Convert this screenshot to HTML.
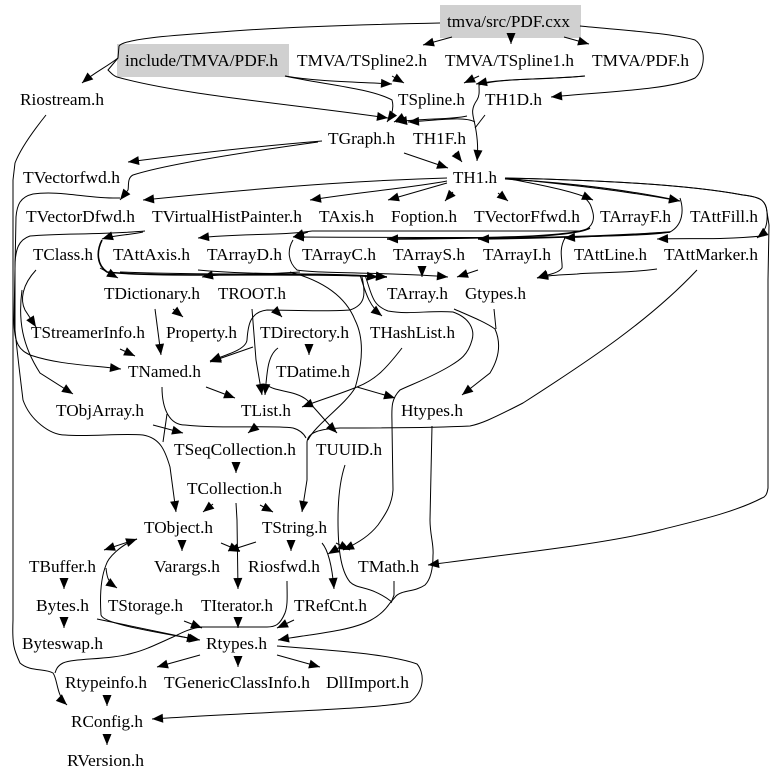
<!DOCTYPE html>
<html><head><meta charset="utf-8"><style>
html,body{margin:0;padding:0;background:#fff;width:779px;height:781px;overflow:hidden}
svg{display:block}
text{font-family:"Liberation Serif",serif;font-size:17px;fill:#000}
path{fill:none;stroke:#000;stroke-width:1}
path.a{marker-end:url(#m)}
</style></head><body>
<svg width="779" height="781" viewBox="0 0 779 781">
<defs><marker id="m" markerUnits="userSpaceOnUse" markerWidth="12" markerHeight="10" refX="11" refY="4.5" orient="auto" overflow="visible"><polygon points="0,0 11,4.5 0,9" fill="#000"/></marker></defs>
<rect x="440" y="5" width="141" height="33" fill="#d0d0d0"/>
<rect x="117" y="44" width="172" height="33" fill="#d0d0d0"/>
<g>
<path class="a" d="M452 37L423 45"/>
<path class="a" d="M511 33L511 44"/>
<path class="a" d="M564 37L589 44"/>
<path class="a" d="M580 26C620 30 670 33 695 40C707 48 705 70 695 78C670 90 600 92 551 97"/>
<path class="a" d="M440 23C390 24 300 26 233 31C180 35 125 38 119 46L118 58C105 68 95 72 82 83"/>
<path class="a" d="M118 58L108 70C112 74 114 76 117 77C180 95 300 105 388 118"/>
<path class="a" d="M285 76C320 82 360 82 392 84"/>
<path class="a" d="M285 76C320 84 370 88 392 100C394 107 392 115 387 122"/>
<path class="a" d="M392 76L404 83"/>
<path class="a" d="M479 76L464 83"/>
<path class="a" d="M585 76C545 80 505 78 476 84"/>
<path class="a" d="M585 76C540 80 500 78 479 85C479 90 480 95 477 100C470 110 473 115 475 125C478 140 478 150 477 161"/>
<path d="M485 115L475 128"/>
<path class="a" d="M475 122C465 116 440 120 408 122"/>
<path class="a" d="M467 116C450 120 425 118 396 122"/>
<path class="a" d="M404 117L394 122"/>
<path class="a" d="M322 141C260 146 190 154 128 162"/>
<path class="a" d="M318 142C260 150 170 163 133 175C127 178 129 186 128 190L120 200"/>
<path class="a" d="M404 153L448 168"/>
<path class="a" d="M455 153L462 162"/>
<path class="a" d="M120 198C90 199 60 190 33 194C20 197 17 205 16 217L14 320C14 345 20 350 30 355C60 365 90 365 121 369"/>
<path class="a" d="M145 231C100 235 60 233 30 236C18 240 16 250 15 262L15 330C18 360 20 375 23 400C30 420 50 435 65 435C90 437 120 433 143 435C160 438 165 450 170 467L176 512"/>
<path class="a" d="M46 115C30 135 20 150 15 163L13 180L13 620C12 645 14 650 20 663C30 672 45 668 53 673C58 680 56 695 67 705"/>
<path class="a" d="M36 270C22 285 20 300 25 310L36 327"/>
<path class="a" d="M22 290C18 320 22 345 40 373L73 394"/>
<path class="a" d="M447 178C380 180 300 184 143 200"/>
<path class="a" d="M447 181C410 188 360 192 310 200"/>
<path class="a" d="M447 183L388 200"/>
<path class="a" d="M453 192L445 201"/>
<path class="a" d="M498 193L508 201"/>
<path class="a" d="M505 178C540 185 570 190 593 200"/>
<path class="a" d="M505 178C570 185 620 190 680 201"/>
<path class="a" d="M505 179C570 183 630 190 680 201"/>
<path class="a" d="M505 178C600 180 690 185 743 195C760 197 766 200 767 212C768 225 765 232 757 238"/>
<path class="a" d="M505 178C600 180 690 185 743 195C760 197 766 200 767 212L769 225L768 280L768 488C767 495 765 497 762 498C735 512 700 520 660 530C600 545 500 555 428 565"/>
<path class="a" d="M143 232C130 235 115 235 102 239"/>
<path class="a" d="M312 231C280 236 240 233 198 238"/>
<path class="a" d="M308 232L293 237"/>
<path d="M312 231L580 231C590 230 595 222 593 213C591 205 590 203 585 198"/>
<path class="a" d="M680 198C684 210 683 225 670 232C640 238 500 238 293 237"/>
<path class="a" d="M590 228C575 236 520 238 387 239" style="stroke-width:1.6"/>
<path class="a" d="M670 232C620 236 540 238 478 239" style="stroke-width:1.6"/>
<path class="a" d="M670 232C630 235 600 236 564 238"/>
<path class="a" d="M762 236C720 240 690 238 657 239"/>
<path class="a" d="M293 240C287 250 288 262 297 270C320 274 400 272 448 277"/>
<path class="a" d="M422 270L422 277"/>
<path class="a" d="M478 270L457 277"/>
<path class="a" d="M102 240C96 252 97 265 107 272C160 278 300 272 387 277" style="stroke-width:1.6"/>
<path class="a" d="M100 268L118 278"/>
<path class="a" d="M198 270C260 276 330 272 387 277"/>
<path class="a" d="M300 272C240 276 225 273 202 277"/>
<path class="a" d="M120 272C220 276 300 272 378 277"/>
<path class="a" d="M565 238C558 250 563 262 562 268C558 274 545 275 537 278"/>
<path class="a" d="M657 269C620 274 590 272 577 274C560 275 550 275 537 278"/>
<path class="a" d="M697 270C650 320 590 360 523 403C490 420 480 424 470 426C430 428 380 428 340 428C320 429 308 432 307 442L307 480L302 512"/>
<path class="a" d="M307 400C320 414 328 424 337 433"/>
<path d="M267 385C275 392 295 390 307 400"/>
<path class="a" d="M402 348C385 370 375 380 357 387C340 394 320 400 302 407"/>
<path class="a" d="M357 387L395 398"/>
<path d="M290 272C320 280 345 295 355 320C365 340 362 365 355 388C345 405 315 425 308 440"/>
<path d="M162 387C162 410 170 425 185 425C220 429 270 425 293 428C300 430 304 434 306 438"/>
<path class="a" d="M257 426L248 433"/>
<path class="a" d="M206 387L235 398"/>
<path class="a" d="M153 425L183 433"/>
<path d="M167 414L163 442"/>
<path class="a" d="M120 349L135 356"/>
<path class="a" d="M155 309L161 355"/>
<path class="a" d="M173 309L183 317"/>
<path class="a" d="M252 309L256 360L262 395"/>
<path class="a" d="M253 347L210 362"/>
<path class="a" d="M278 348C268 355 267 370 265 395"/>
<path class="a" d="M309 346L309 355"/>
<path class="a" d="M362 277C366 295 365 305 350 310C320 312 290 310 267 310C250 312 248 325 247 340C246 350 225 355 210 361"/>
<path class="a" d="M275 310L282 317"/>
<path class="a" d="M360 275C365 290 368 305 382 316"/>
<path class="a" d="M365 275C372 295 372 305 388 311C410 315 430 310 453 312C470 318 475 330 472 340C468 355 460 360 450 366C430 378 410 385 400 390C390 400 392 410 392 425L393 490C392 505 385 515 378 525C370 535 360 542 343 550"/>
<path class="a" d="M454 309C470 316 485 322 495 329C502 345 498 360 490 373L462 395"/>
<path d="M494 309L496 329"/>
<path class="a" d="M432 426L430 520C430 535 434 545 433 555C433 570 430 580 425 585C415 592 402 590 396 596L390 603C380 618 365 625 340 630C320 634 300 636 278 640"/>
<path d="M394 581L394 595L391 603"/>
<path d="M345 465C340 480 338 500 338 520C338 545 340 570 350 582C358 590 370 585 392 602"/>
<path class="a" d="M236 503L237 520L238 589"/>
<path class="a" d="M213 504L203 512"/>
<path class="a" d="M260 505L273 512"/>
<path class="a" d="M236 462L236 473"/>
<path class="a" d="M106 565C108 558 120 545 137 539"/>
<path class="a" d="M137 539L104 550"/>
<path class="a" d="M106 565C100 580 100 600 101 615C103 622 130 628 200 640"/>
<path class="a" d="M106 568C107 578 108 582 117 588"/>
<path class="a" d="M182 541L182 551"/>
<path class="a" d="M221 543L240 551"/>
<path class="a" d="M256 542L228 551"/>
<path class="a" d="M291 541L291 551"/>
<path class="a" d="M322 543C328 550 332 565 334 589"/>
<path class="a" d="M345 544L328 554"/>
<path class="a" d="M336 543L350 550"/>
<path class="a" d="M64 579L64 589"/>
<path class="a" d="M64 618L64 628"/>
<path class="a" d="M97 619L198 640"/>
<path class="a" d="M184 621L202 628"/>
<path class="a" d="M238 618L238 628"/>
<path class="a" d="M294 620L277 628"/>
<path d="M287 581C287 595 288 605 285 613C280 625 275 627 267 627L200 627C185 630 180 634 173 637C155 645 145 650 133 653C110 660 75 658 63 663C57 666 56 670 55 673"/>
<path class="a" d="M200 655L157 667"/>
<path class="a" d="M238 657L238 667"/>
<path class="a" d="M277 655L320 667"/>
<path class="a" d="M277 646C330 650 390 654 417 664C424 672 426 690 410 702C370 710 250 712 152 719"/>
<path class="a" d="M107 696L107 706"/>
<path class="a" d="M107 735L107 745"/>
</g>
<g>
<text x="447" y="27" textLength="123" lengthAdjust="spacingAndGlyphs">tmva/src/PDF.cxx</text>
<text x="125" y="66" textLength="153" lengthAdjust="spacingAndGlyphs">include/TMVA/PDF.h</text>
<text x="297" y="66" textLength="130" lengthAdjust="spacingAndGlyphs">TMVA/TSpline2.h</text>
<text x="445" y="66" textLength="129" lengthAdjust="spacingAndGlyphs">TMVA/TSpline1.h</text>
<text x="592" y="66" textLength="97" lengthAdjust="spacingAndGlyphs">TMVA/PDF.h</text>
<text x="20" y="105" textLength="84" lengthAdjust="spacingAndGlyphs">Riostream.h</text>
<text x="398" y="105" textLength="67" lengthAdjust="spacingAndGlyphs">TSpline.h</text>
<text x="485" y="105" textLength="57" lengthAdjust="spacingAndGlyphs">TH1D.h</text>
<text x="328" y="144" textLength="67" lengthAdjust="spacingAndGlyphs">TGraph.h</text>
<text x="413" y="144" textLength="53" lengthAdjust="spacingAndGlyphs">TH1F.h</text>
<text x="23" y="183" textLength="97" lengthAdjust="spacingAndGlyphs">TVectorfwd.h</text>
<text x="453" y="183" textLength="44" lengthAdjust="spacingAndGlyphs">TH1.h</text>
<text x="26" y="222" textLength="109" lengthAdjust="spacingAndGlyphs">TVectorDfwd.h</text>
<text x="152" y="222" textLength="150" lengthAdjust="spacingAndGlyphs">TVirtualHistPainter.h</text>
<text x="319" y="222" textLength="55" lengthAdjust="spacingAndGlyphs">TAxis.h</text>
<text x="391" y="222" textLength="66" lengthAdjust="spacingAndGlyphs">Foption.h</text>
<text x="474" y="222" textLength="106" lengthAdjust="spacingAndGlyphs">TVectorFfwd.h</text>
<text x="600" y="222" textLength="71" lengthAdjust="spacingAndGlyphs">TArrayF.h</text>
<text x="690" y="222" textLength="68" lengthAdjust="spacingAndGlyphs">TAttFill.h</text>
<text x="33" y="260" textLength="60" lengthAdjust="spacingAndGlyphs">TClass.h</text>
<text x="113" y="260" textLength="77" lengthAdjust="spacingAndGlyphs">TAttAxis.h</text>
<text x="207" y="260" textLength="75" lengthAdjust="spacingAndGlyphs">TArrayD.h</text>
<text x="302" y="260" textLength="74" lengthAdjust="spacingAndGlyphs">TArrayC.h</text>
<text x="393" y="260" textLength="72" lengthAdjust="spacingAndGlyphs">TArrayS.h</text>
<text x="483" y="260" textLength="68" lengthAdjust="spacingAndGlyphs">TArrayI.h</text>
<text x="574" y="260" textLength="73" lengthAdjust="spacingAndGlyphs">TAttLine.h</text>
<text x="664" y="260" textLength="94" lengthAdjust="spacingAndGlyphs">TAttMarker.h</text>
<text x="104" y="299" textLength="96" lengthAdjust="spacingAndGlyphs">TDictionary.h</text>
<text x="218" y="299" textLength="68" lengthAdjust="spacingAndGlyphs">TROOT.h</text>
<text x="387" y="299" textLength="61" lengthAdjust="spacingAndGlyphs">TArray.h</text>
<text x="465" y="299" textLength="61" lengthAdjust="spacingAndGlyphs">Gtypes.h</text>
<text x="31" y="338" textLength="114" lengthAdjust="spacingAndGlyphs">TStreamerInfo.h</text>
<text x="166" y="338" textLength="71" lengthAdjust="spacingAndGlyphs">Property.h</text>
<text x="260" y="338" textLength="89" lengthAdjust="spacingAndGlyphs">TDirectory.h</text>
<text x="370" y="338" textLength="85" lengthAdjust="spacingAndGlyphs">THashList.h</text>
<text x="128" y="377" textLength="73" lengthAdjust="spacingAndGlyphs">TNamed.h</text>
<text x="276" y="377" textLength="74" lengthAdjust="spacingAndGlyphs">TDatime.h</text>
<text x="56" y="416" textLength="88" lengthAdjust="spacingAndGlyphs">TObjArray.h</text>
<text x="241" y="416" textLength="50" lengthAdjust="spacingAndGlyphs">TList.h</text>
<text x="401" y="416" textLength="62" lengthAdjust="spacingAndGlyphs">Htypes.h</text>
<text x="174" y="455" textLength="122" lengthAdjust="spacingAndGlyphs">TSeqCollection.h</text>
<text x="316" y="455" textLength="66" lengthAdjust="spacingAndGlyphs">TUUID.h</text>
<text x="187" y="494" textLength="95" lengthAdjust="spacingAndGlyphs">TCollection.h</text>
<text x="144" y="533" textLength="69" lengthAdjust="spacingAndGlyphs">TObject.h</text>
<text x="262" y="533" textLength="65" lengthAdjust="spacingAndGlyphs">TString.h</text>
<text x="29" y="572" textLength="67" lengthAdjust="spacingAndGlyphs">TBuffer.h</text>
<text x="154" y="572" textLength="66" lengthAdjust="spacingAndGlyphs">Varargs.h</text>
<text x="248" y="572" textLength="72" lengthAdjust="spacingAndGlyphs">Riosfwd.h</text>
<text x="358" y="572" textLength="61" lengthAdjust="spacingAndGlyphs">TMath.h</text>
<text x="36" y="611" textLength="53" lengthAdjust="spacingAndGlyphs">Bytes.h</text>
<text x="108" y="611" textLength="75" lengthAdjust="spacingAndGlyphs">TStorage.h</text>
<text x="201" y="611" textLength="72" lengthAdjust="spacingAndGlyphs">TIterator.h</text>
<text x="294" y="611" textLength="73" lengthAdjust="spacingAndGlyphs">TRefCnt.h</text>
<text x="22" y="649" textLength="81" lengthAdjust="spacingAndGlyphs">Byteswap.h</text>
<text x="206" y="649" textLength="61" lengthAdjust="spacingAndGlyphs">Rtypes.h</text>
<text x="65" y="688" textLength="82" lengthAdjust="spacingAndGlyphs">Rtypeinfo.h</text>
<text x="164" y="688" textLength="146" lengthAdjust="spacingAndGlyphs">TGenericClassInfo.h</text>
<text x="326" y="688" textLength="83" lengthAdjust="spacingAndGlyphs">DllImport.h</text>
<text x="71" y="727" textLength="72" lengthAdjust="spacingAndGlyphs">RConfig.h</text>
<text x="67" y="766" textLength="77" lengthAdjust="spacingAndGlyphs">RVersion.h</text>
</g>
</svg>
</body></html>
